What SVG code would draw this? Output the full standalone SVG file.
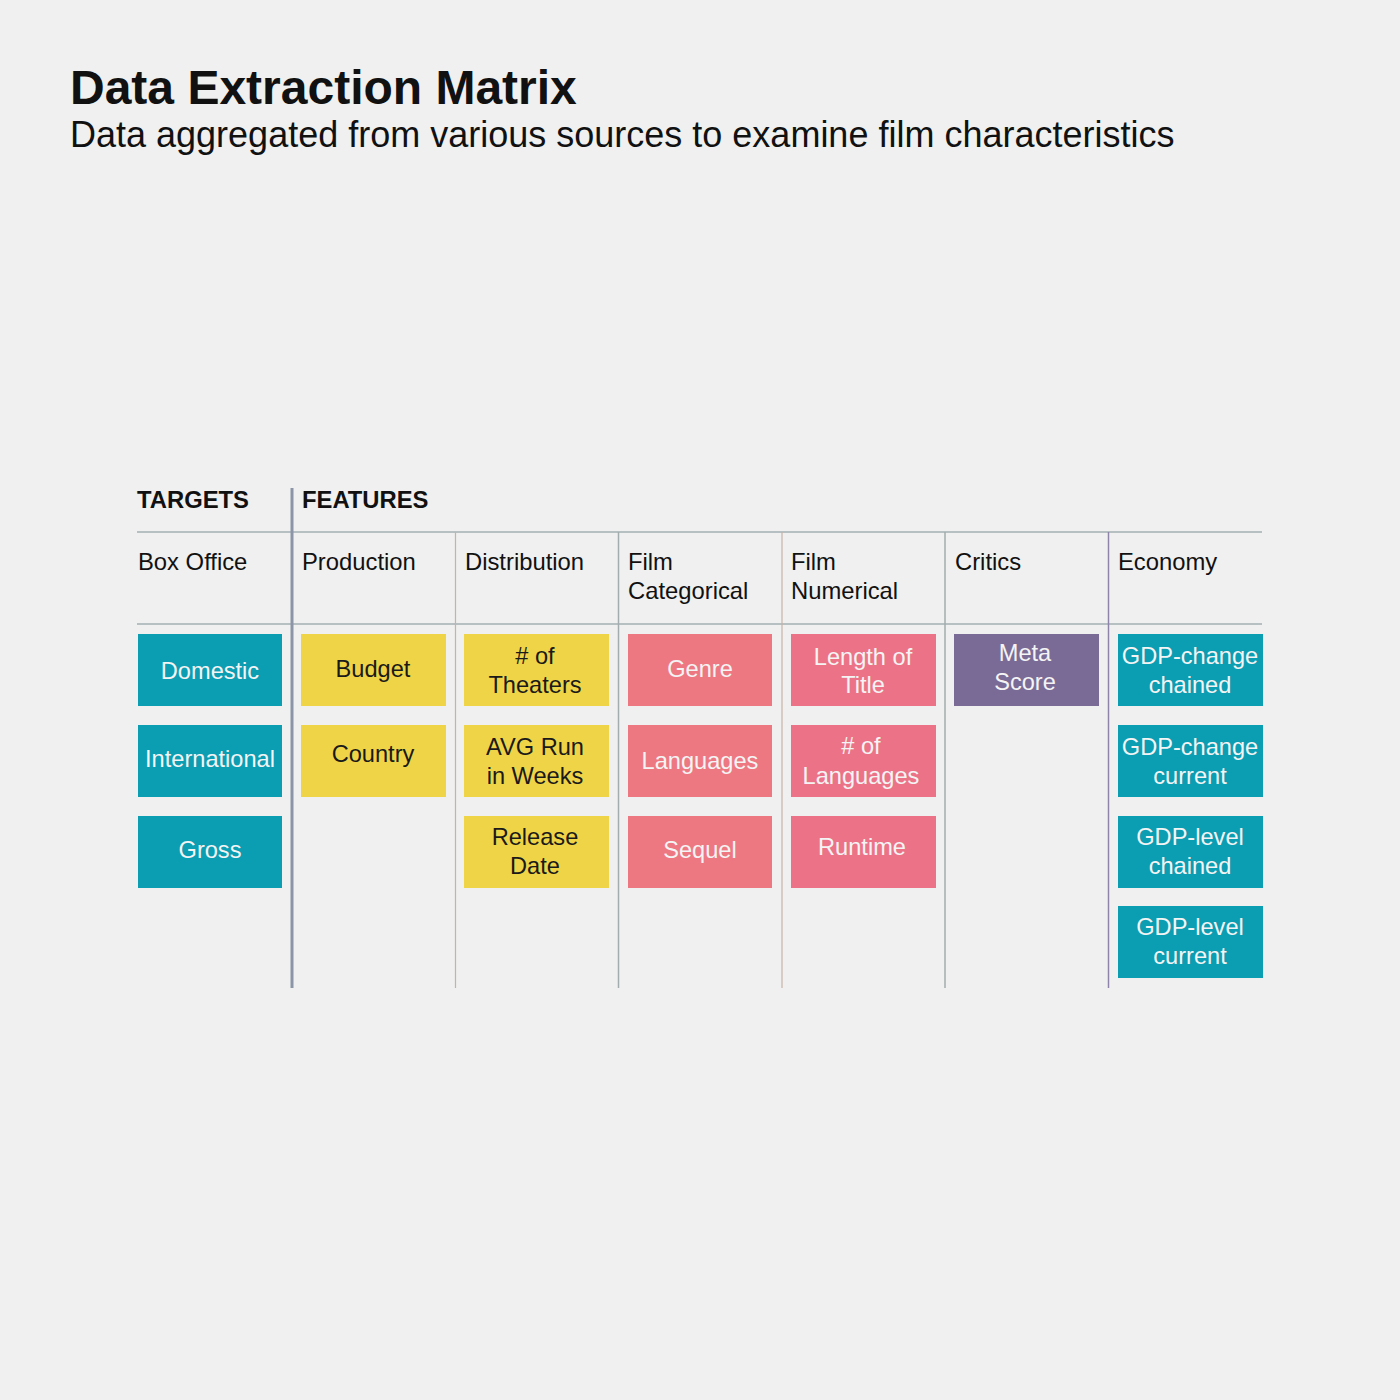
<svg xmlns="http://www.w3.org/2000/svg" width="1400" height="1400" viewBox="0 0 1400 1400">
<style>
text{font-family:"Liberation Sans",Arial,sans-serif;}
.title{font-size:48px;font-weight:bold;fill:#111;}
.sub{font-size:36px;fill:#111;}
.sec{font-size:23.8px;font-weight:bold;fill:#111;}
.col{font-size:23.8px;fill:#111;}
.lbl{font-size:23.6px;text-anchor:middle;}
.w{fill:#f4f4f4;}
.d{fill:#1a1a1a;}
.teal{fill:#0b9db2;}
.yel{fill:#f0d447;}
.pink{fill:#ec7387;}
.pinko{fill:#ee7882;}
.purp{fill:#7a6b96;}
.hl{stroke:#a3afb2;stroke-width:1.5;}
</style>
<rect width="1400" height="1400" fill="#eff0ef"/>
<text class="title" x="70" y="104">Data Extraction Matrix</text>
<text class="sub" x="70" y="147">Data aggregated from various sources to examine film characteristics</text>
<g id="connectors">
<line class="hl" x1="137" y1="532" x2="1262" y2="532"/>
<line class="hl" x1="137" y1="624" x2="1262" y2="624"/>
<line x1="292" y1="488" x2="292" y2="988" stroke="#8c95a8" stroke-width="3"/>
<line x1="455.5" y1="532" x2="455.5" y2="988" stroke="#c2b4a8" stroke-width="1.2"/>
<line x1="618.5" y1="532" x2="618.5" y2="988" stroke="#a3adad" stroke-width="1.5"/>
<line x1="782" y1="532" x2="782" y2="988" stroke="#c6b2a4" stroke-width="1.2"/>
<line x1="945" y1="532" x2="945" y2="988" stroke="#a3adad" stroke-width="1.5"/>
<line x1="1108.5" y1="532" x2="1108.5" y2="988" stroke="#8e84aa" stroke-width="1.5"/>
</g>
<g id="headers">
<text class="sec" x="137" y="508">TARGETS</text>
<text class="sec" x="302" y="508">FEATURES</text>
<text class="col" x="138" y="570">Box Office</text>
<text class="col" x="302" y="570">Production</text>
<text class="col" x="465" y="570">Distribution</text>
<text class="col" x="628" y="570">Film</text>
<text class="col" x="628" y="599">Categorical</text>
<text class="col" x="791" y="570">Film</text>
<text class="col" x="791" y="599">Numerical</text>
<text class="col" x="955" y="570">Critics</text>
<text class="col" x="1118" y="570">Economy</text>
</g>
<g id="domestic"><rect class="teal" x="138" y="634" width="144" height="72"/><text class="lbl w" x="210" y="679">Domestic</text></g>
<g id="international"><rect class="teal" x="138" y="725" width="144" height="72"/><text class="lbl w" x="210" y="767">International</text></g>
<g id="gross"><rect class="teal" x="138" y="816" width="144" height="72"/><text class="lbl w" x="210" y="858">Gross</text></g>
<g id="budget"><rect class="yel" x="301" y="634" width="145" height="72"/><text class="lbl d" x="373" y="677">Budget</text></g>
<g id="country"><rect class="yel" x="301" y="725" width="145" height="72"/><text class="lbl d" x="373" y="762">Country</text></g>
<g id="theaters"><rect class="yel" x="464" y="634" width="145" height="72"/><text class="lbl d" x="535" y="664"><tspan x="535">#&#160;of</tspan><tspan x="535" dy="29">Theaters</tspan></text></g>
<g id="avgrun"><rect class="yel" x="464" y="725" width="145" height="72"/><text class="lbl d" x="535" y="755"><tspan x="535">AVG Run</tspan><tspan x="535" dy="29">in Weeks</tspan></text></g>
<g id="release"><rect class="yel" x="464" y="816" width="145" height="72"/><text class="lbl d" x="535" y="845"><tspan x="535">Release</tspan><tspan x="535" dy="29">Date</tspan></text></g>
<g id="genre"><rect class="pinko" x="628" y="634" width="144" height="72"/><text class="lbl w" x="700" y="677">Genre</text></g>
<g id="languages"><rect class="pinko" x="628" y="725" width="144" height="72"/><text class="lbl w" x="700" y="769">Languages</text></g>
<g id="sequel"><rect class="pinko" x="628" y="816" width="144" height="72"/><text class="lbl w" x="700" y="858">Sequel</text></g>
<g id="lengthtitle"><rect class="pink" x="791" y="634" width="145" height="72"/><text class="lbl w" x="863" y="665"><tspan x="863">Length of</tspan><tspan x="863" dy="28">Title</tspan></text></g>
<g id="numlang"><rect class="pink" x="791" y="725" width="145" height="72"/><text class="lbl w" x="861" y="754"><tspan x="861">#&#160;of</tspan><tspan x="861" dy="30">Languages</tspan></text></g>
<g id="runtime"><rect class="pink" x="791" y="816" width="145" height="72"/><text class="lbl w" x="862" y="855">Runtime</text></g>
<g id="metascore"><rect class="purp" x="954" y="634" width="145" height="72"/><text class="lbl w" x="1025" y="661"><tspan x="1025">Meta</tspan><tspan x="1025" dy="29">Score</tspan></text></g>
<g id="gdpchangechained"><rect class="teal" x="1118" y="634" width="145" height="72"/><text class="lbl w" x="1190" y="664"><tspan x="1190">GDP-change</tspan><tspan x="1190" dy="29">chained</tspan></text></g>
<g id="gdpchangecurrent"><rect class="teal" x="1118" y="725" width="145" height="72"/><text class="lbl w" x="1190" y="755"><tspan x="1190">GDP-change</tspan><tspan x="1190" dy="29">current</tspan></text></g>
<g id="gdplevelchained"><rect class="teal" x="1118" y="816" width="145" height="72"/><text class="lbl w" x="1190" y="845"><tspan x="1190">GDP-level</tspan><tspan x="1190" dy="29">chained</tspan></text></g>
<g id="gdplevelcurrent"><rect class="teal" x="1118" y="906" width="145" height="72"/><text class="lbl w" x="1190" y="935"><tspan x="1190">GDP-level</tspan><tspan x="1190" dy="29">current</tspan></text></g>
</svg>
